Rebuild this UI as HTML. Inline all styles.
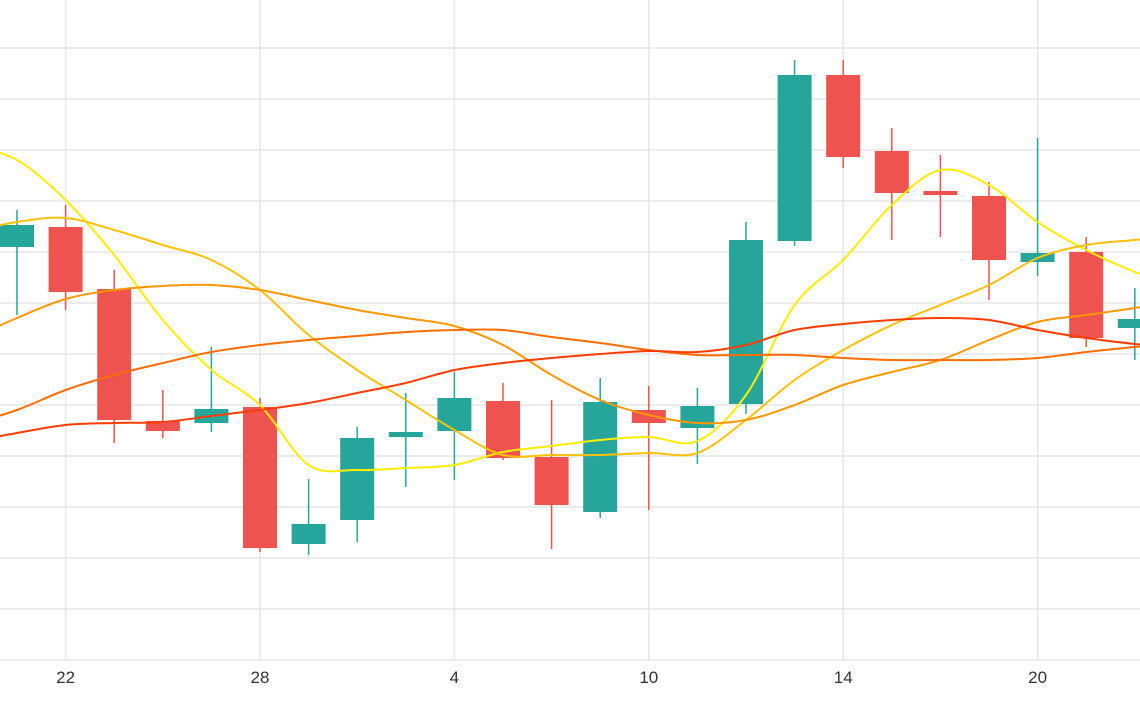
<!DOCTYPE html>
<html><head><meta charset="utf-8"><style>
html,body{margin:0;padding:0;background:#fff;width:1140px;height:710px;overflow:hidden}
svg{display:block;font-family:"Liberation Sans",sans-serif}
</style></head><body>
<svg id="chart" width="1140" height="710" viewBox="0 0 1140 710"></svg>
<script>
const xLabels = ["22","28","4","10","14","20"];
const xLabelIdx = [1,5,9,13,17,21];
const opens  = [413,433,371,239,237,253,116,140,223,229,259,203,148,250,232,256,419,585,509,469,464,398,408,332];
const highs  = [450,455,390,270,313,262,181,233,267,288,277,260,282,274,272,438,600,600,532,505,478,522,423,372];
const lows   = [345,350,217,222,228,108,105,118,173,180,200,111,142,150,196,246,414,492,420,423,360,384,313,300];
const closes = [435,368,240,229,251,112,136,222,228,262,202,155,258,237,254,420,585,503,467,465,400,407,322,341];
// moving averages, indices -1..24
const ma1 = [515,500,460,405,340,290,255,195,190,192,195,208,214,220,223,219,265,355,400,455,490,475,438,410,388,370];
const ma2 = [428,438,442,430,415,400,370,325,290,260,230,205,205,205,207,207,240,280,310,335,355,375,402,415,420,425];
const ma3 = [320,342,361,370,374,375,370,360,350,342,334,315,285,260,245,237,240,255,275,288,300,320,338,345,352,360];
const ma4 = [235,250,270,285,297,308,315,320,324,328,330,330,323,317,310,305,305,305,302,300,300,300,302,308,313,318];
const ma5 = [218,227,235,237,238,244,250,257,267,277,290,297,302,306,309,308,315,330,336,340,342,340,330,322,316,312];
const gridVals = [0,51,102,153,204,255,306,357,408,459,510,561,612];

const NS="http://www.w3.org/2000/svg";
const svg=document.getElementById('chart');
const xs=i=>17+i*48.6;
const ys=v=>660-v;
function mk(t,a,p){const e=document.createElementNS(NS,t);for(const k in a)e.setAttribute(k,a[k]);(p||svg).appendChild(e);return e;}

const gGrid=mk('g',{});


gridVals.forEach(v=>{const l=mk('line',{x1:0,x2:1140,y1:ys(v),y2:ys(v),stroke:'#e6e6e6','stroke-width':1.5},gGrid);

});
xLabelIdx.forEach((i,k)=>{const l=mk('line',{x1:xs(i),x2:xs(i),y1:0,y2:660,stroke:'#e6e6e6','stroke-width':1.5},gGrid);


const t=mk('text',{x:xs(i),y:683,'text-anchor':'middle','font-size':17,fill:'#333'});
t.textContent=xLabels[k];

});

// candles
const gC=mk('g',{});


opens.forEach((o,i)=>{const c=closes[i];const col=c>=o?'#26a69a':'#ef5350';
const g=mk('g',{},gC);


mk('line',{x1:xs(i),x2:xs(i),y1:ys(highs[i]),y2:ys(lows[i]),stroke:col,'stroke-width':1.5},g);
const top=ys(Math.max(o,c)),h=Math.max(2,Math.abs(o-c));
mk('rect',{x:xs(i)-17,y:top,width:34,height:h,fill:col},g);});

// MA lines
function smooth(vals){const p=vals.map((v,k)=>[xs(k-1),ys(v)]);let d=`M${p[0][0]},${p[0][1]}`;
for(let i=0;i<p.length-1;i++){const p0=p[Math.max(0,i-1)],p1=p[i],p2=p[i+1],p3=p[Math.min(p.length-1,i+2)];
d+=` C${p1[0]+(p2[0]-p0[0])/6},${p1[1]+(p2[1]-p0[1])/6} ${p2[0]-(p3[0]-p1[0])/6},${p2[1]-(p3[1]-p1[1])/6} ${p2[0]},${p2[1]}`;}return d;}
[[ma1,'#ffee00','ma-line-1'],[ma2,'#ffc107','ma-line-2'],[ma3,'#ff9800','ma-line-3'],[ma4,'#ff6d00','ma-line-4'],[ma5,'#ff3d00','ma-line-5']].forEach(([v,c,n])=>{
const p=mk('path',{d:smooth(v),fill:'none',stroke:c,'stroke-width':2});

});
</script>
</body></html>
